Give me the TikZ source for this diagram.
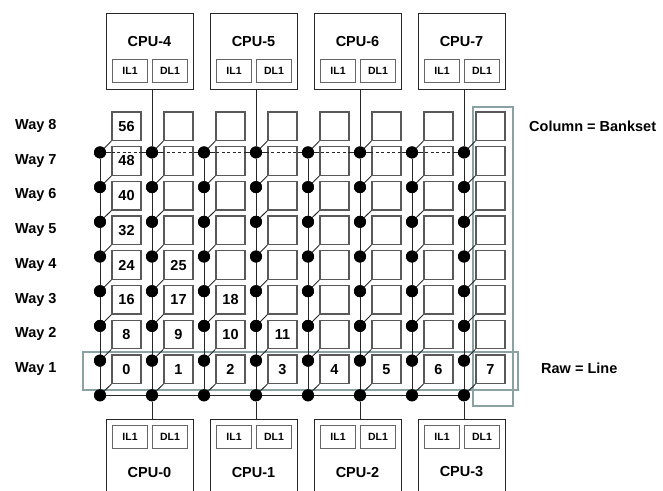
\documentclass[tikz,border=0pt]{standalone}
\usepackage{fontspec}
\setmainfont{Liberation Sans}
\begin{document}
\begin{tikzpicture}[x=1pt,y=-1pt,
  font=\bfseries\fontsize{14.5}{16}\selectfont,
  hl/.style={draw=hlcol,line width=1.7pt},
  dotn/.style={circle,fill=black,inner sep=0pt,minimum size=12pt},
  wire/.style={draw=black!85,line width=0.9pt},
  cell/.style={draw=black!65,fill=white,line width=1.3pt,minimum width=29pt,minimum height=28.5pt,inner sep=0pt},
  cpubox/.style={draw=black!85,line width=1.2pt,minimum width=87pt,minimum height=76pt,inner sep=0pt},
  cache/.style={draw=black!60,line width=1.1pt,minimum width=35pt,minimum height=23pt,inner sep=0pt,font=\bfseries\fontsize{10.5}{12}\selectfont},
  lbl/.style={anchor=west,inner sep=0pt}]
\definecolor{hlcol}{HTML}{8AA2A2}
\useasboundingbox (0,0) rectangle (663,490);
\clip (0,0) rectangle (663,490);
% highlights
\node[hl,minimum width=435pt,minimum height=38pt,inner sep=0pt,anchor=north west] (rowhl) at (82,351) {};
\node[hl,minimum width=40pt,minimum height=299pt,inner sep=0pt,anchor=north west] (colhl) at (472,106) {};
% dots
\foreach \i in {1,...,8}{
  \foreach \k in {0,...,7}{
    \node[dotn] (d-\i-\k) at ({100+52*\k},{117.7+34.7*\i}) {};
  }
}
% solid wires
\draw[wire] (d-1-0) -- (d-1-7);
\draw[wire] (d-8-0) -- (d-8-7);
\foreach \k in {0,...,7}{
  \draw[wire] (d-1-\k) -- (d-8-\k);
}
% cells
\foreach \i in {0,...,7}{
  \foreach \k in {0,...,7}{
    \node[cell] (b-\i-\k) at ({126.5+52*\k},{126.25+34.7*\i}) {};
  }
}
% dashed hidden part
\draw[wire,dash pattern=on 3pt off 2.5pt] (d-1-0) -- (d-1-7);
% diagonals
\foreach \i [evaluate=\i as \j using int(\i-1)] in {1,...,8}{
  \foreach \k in {0,...,7}{
    \draw[wire] (d-\i-\k.center) -- (b-\j-\k.south west);
  }
}
% numbers
\node at (b-0-0) {56};
\node at (b-1-0) {48};
\node at (b-2-0) {40};
\node at (b-3-0) {32};
\node at (b-4-0) {24};
\node at (b-4-1) {25};
\node at (b-5-0) {16};
\node at (b-5-1) {17};
\node at (b-5-2) {18};
\node at (b-6-0) {8};
\node at (b-6-1) {9};
\node at (b-6-2) {10};
\node at (b-6-3) {11};
\foreach \k in {0,...,7}{ \node at (b-7-\k) {\k}; }
% dots redrawn on top
\foreach \i in {1,...,8}{
  \foreach \k in {0,...,7}{
    \fill (d-\i-\k.center) circle (6pt);
  }
}
% CPUs
\foreach \j [evaluate=\j as \t using int(\j+4), evaluate=\j as \c using int(2*\j+1)] in {0,...,3}{
  \node[cpubox,anchor=north west] (ct-\j) at ({106+104*\j},13) {};
  \node (ctl-\j) at ({149.5+104*\j},42) {CPU-\t};
  \node[cache,anchor=north west] (cti-\j) at ({112+104*\j},59) {IL1};
  \node[cache,anchor=north west] (ctd-\j) at ({152+104*\j},59) {DL1};
  \draw[wire] (ct-\j.south -| d-1-\c) -- (d-1-\c);
  \node[cpubox,anchor=north west] (cb-\j) at ({106+104*\j},419) {};
  \node (cbl-\j) at ({149.5+104*\j},472) {CPU-\j};
  \node[cache,anchor=north west] (cbi-\j) at ({112+104*\j},425) {IL1};
  \node[cache,anchor=north west] (cbd-\j) at ({152+104*\j},425) {DL1};
  \draw[wire] (d-8-\c) -- (cb-\j.north -| d-8-\c);
}
% way labels
\foreach \i [evaluate=\i as \w using int(8-\i)] in {0,...,7}{
  \node[lbl] (w-\i) at (15,{126+34.7*\i}) {Way \w};
}
\node[lbl] (colt) at (529,126) {Column = Bankset};
\node[lbl] (rowt) at (541,368) {Raw = Line};
\end{tikzpicture}
\end{document}
